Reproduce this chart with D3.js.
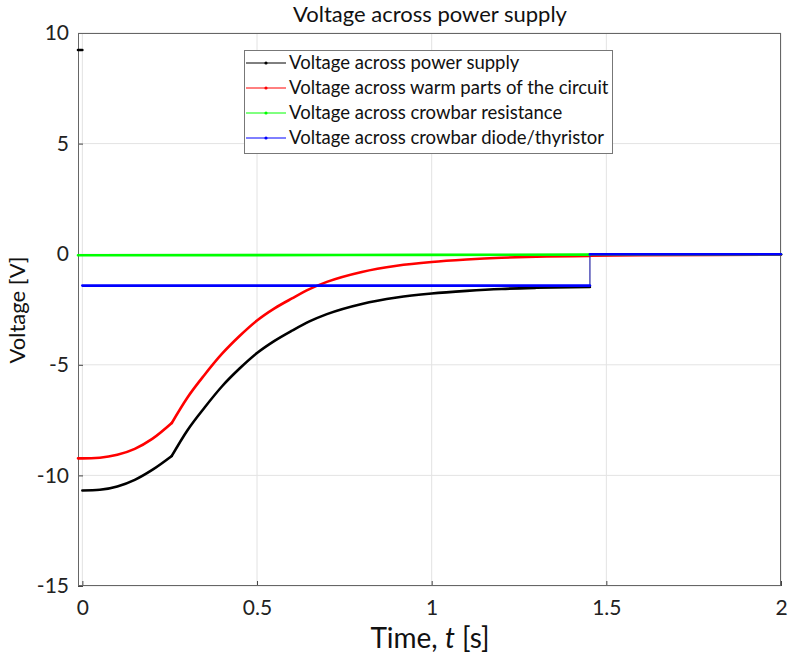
<!DOCTYPE html>
<html>
<head>
<meta charset="utf-8">
<script src="https://cdn.jsdelivr.net/npm/d3@7"></script>
<style>
  html, body { margin: 0; padding: 0; background: #fff; }
  svg { display: block; font-family: Lato, "Open Sans", sans-serif; }
</style>
</head>
<body>
<svg id="chart" width="789" height="658"></svg>
<script>
// Circuit voltages after the crowbar fires; the switch opens at t = 1.453 s.
const switchTime = 1.453;
const kneeTime = 0.256;

// Sample times (s) for the supply and warm-circuit traces
const timeMain = [0, 0.05, 0.1, 0.15, 0.2, 0.256, 0.3, 0.35, 0.4, 0.45, 0.5, 0.55,
                  0.6, 0.65, 0.7, 0.8, 0.9, 1.0, 1.1, 1.2, 1.3, 1.453];
const timeAfter = [1.453, 1.6, 1.8, 2.0];

// Voltage across power supply (V)
const supplyBefore = [[-0.0125, 9.23], [0, 9.23]];
const supplyMain = [-10.68, -10.65, -10.5, -10.2, -9.75, -9.12, -7.98, -6.93, -5.97, -5.17, -4.47, -3.92,
                    -3.46, -3.04, -2.71, -2.25, -1.96, -1.78, -1.66, -1.57, -1.52, -1.48];
const supplyAfter = [-0.02, -0.02, -0.01, -0.01];

// Voltage across warm parts of the circuit (V)
const warmStart = [-0.0125, -9.23];
const warmMain = [-9.23, -9.2, -9.07, -8.8, -8.35, -7.63, -6.5, -5.45, -4.5, -3.7, -3.0, -2.45,
                  -2.0, -1.58, -1.25, -0.8, -0.52, -0.35, -0.24, -0.16, -0.11, -0.08];
const warmAfter = [-0.07, -0.05, -0.03, -0.02];

// Voltage across crowbar resistance (V)
const resistanceTime = [-0.0125, 0.5, 1.0, 1.453];
const resistanceVals = [-0.05, -0.04, -0.03, -0.02];
const resistanceAfter = [0, 0, 0, 0];

// Voltage across crowbar diode/thyristor (V)
const diodeTime = [0, 0.5, 1.0, 1.453];
const diodeVals = [-1.42, -1.42, -1.42, -1.42];
const diodeAfter = [0, 0, 0, 0];

const xTicks = [0, 0.5, 1, 1.5, 2];
const xTickLabels = ["0", "0.5", "1", "1.5", "2"];
const yTicks = [10, 5, 0, -5, -10, -15];
const yTickLabels = ["10", "5", "0", "-5", "-10", "-15"];

const seriesNames = [
  "Voltage across power supply",
  "Voltage across warm parts of the circuit",
  "Voltage across crowbar resistance",
  "Voltage across crowbar diode/thyristor"
];
const seriesColors = ["#000000", "#ff0000", "#00ff00", "#0000ff"];

const svg = d3.select("#chart");
const plot = { left: 78, right: 781, top: 33, bottom: 586 };

const x = d3.scaleLinear().domain([-0.0125, 2]).range([plot.left, plot.right]);
const y = d3.scaleLinear().domain([-15, 10]).range([plot.bottom, plot.top]);

// grid lines
const grid = svg.append("g");
grid.selectAll("line.gx").data(xTicks).join("line")
  .attr("x1", d => x(d)).attr("x2", d => x(d))
  .attr("y1", plot.top).attr("y2", plot.bottom)
  .attr("stroke", "#e3e3e3").attr("stroke-width", 1);
grid.selectAll("line.gy").data(yTicks).join("line")
  .attr("x1", plot.left).attr("x2", plot.right)
  .attr("y1", d => y(d)).attr("y2", d => y(d))
  .attr("stroke", "#e3e3e3").attr("stroke-width", 1);

// axes (ticks inside the box)
const xAxis = d3.axisBottom(x).tickValues(xTicks).tickFormat((d, i) => xTickLabels[i])
  .tickSizeInner(-5).tickSizeOuter(0).tickPadding(14);
const yAxis = d3.axisLeft(y).tickValues(yTicks).tickFormat((d, i) => yTickLabels[i])
  .tickSizeInner(-5).tickSizeOuter(0).tickPadding(9);

const gx = svg.append("g").attr("transform", `translate(0,${plot.bottom})`).call(xAxis);
const gy = svg.append("g").attr("transform", `translate(${plot.left},0)`).call(yAxis);
[gx, gy].forEach(g => {
  g.select(".domain").remove();
  g.selectAll(".tick line").attr("stroke", "#444");
  g.selectAll(".tick text").attr("fill", "#222").style("font-size", "21px")
    .style("font-family", "Lato, sans-serif");
});
gx.selectAll(".tick text").attr("dy", "0.71em");

// plot box
svg.append("rect")
  .attr("x", plot.left + 0.5).attr("y", plot.top + 0.5)
  .attr("width", plot.right - plot.left - 1).attr("height", plot.bottom - plot.top - 1)
  .attr("fill", "none").attr("stroke", "#666").attr("stroke-width", 1);

const line = d3.line().x(d => x(d[0])).y(d => y(d[1])).curve(d3.curveMonotoneX);
const layer = svg.append("g");

// split a trace at the knee so the corner stays sharp while each side is smooth
function splitAtKnee(points) {
  const k = points.findIndex(p => p[0] === kneeTime);
  return k < 0 ? [points] : [points.slice(0, k + 1), points.slice(k)];
}

function drawTrace(pieces, color) {
  // thick pieces joined by a thin step at the switching instant
  for (let i = 0; i < pieces.length - 1; i++) {
    const a = pieces[i][pieces[i].length - 1], b = pieces[i + 1][0];
    if (a[0] === b[0] && a[1] !== b[1]) {
      layer.append("path").attr("d", d3.line().x(d => x(d[0])).y(d => y(d[1]))([a, b]))
        .attr("fill", "none").attr("stroke", color).attr("stroke-width", 1).attr("opacity", 0.6);
    }
  }
  pieces.forEach(p => {
    splitAtKnee(p).forEach(seg => {
      layer.append("path").attr("d", line(seg))
        .attr("fill", "none").attr("stroke", color).attr("stroke-width", 2.6)
        .attr("stroke-linejoin", "round").attr("stroke-linecap", "round");
    });
  });
}

const zip = (t, v) => t.map((d, i) => [d, v[i]]);

drawTrace([supplyBefore], seriesColors[0]);
drawTrace([zip(timeMain, supplyMain), zip(timeAfter, supplyAfter)], seriesColors[0]);
drawTrace([[warmStart].concat(zip(timeMain, warmMain)), zip(timeAfter, warmAfter)], seriesColors[1]);
drawTrace([zip(resistanceTime, resistanceVals), zip(timeAfter, resistanceAfter)], seriesColors[2]);
drawTrace([zip(diodeTime, diodeVals), zip(timeAfter, diodeAfter)], seriesColors[3]);

// legend
const legend = svg.append("g").attr("transform", "translate(244,50)");
legend.append("rect").attr("x", 0.5).attr("y", 0.5).attr("width", 368).attr("height", 103)
  .attr("fill", "#fff").attr("stroke", "#777").attr("stroke-width", 1);
const rows = legend.selectAll("g.row").data(seriesNames).join("g")
  .attr("transform", (d, i) => `translate(0,${13 + i * 25})`);
rows.append("line").attr("x1", 2).attr("x2", 42).attr("y1", 0).attr("y2", 0)
  .attr("stroke", (d, i) => seriesColors[i]).attr("stroke-width", 1);
rows.append("circle").attr("cx", 22).attr("cy", 0).attr("r", 1.6)
  .attr("fill", (d, i) => seriesColors[i]);
rows.append("text").attr("x", 45).attr("y", 0).attr("dy", "0.35em")
  .style("font-size", "18.5px").attr("fill", "#111").text(d => d);

// title and axis labels
svg.append("text").attr("x", 430).attr("y", 22).attr("text-anchor", "middle")
  .style("font-size", "22px").attr("fill", "#111").text("Voltage across power supply");

const xl = svg.append("text").attr("x", 430).attr("y", 648).attr("text-anchor", "middle")
  .style("font-size", "28px").attr("fill", "#111");
xl.append("tspan").text("Time, ");
xl.append("tspan").style("font-style", "italic").text("t");
xl.append("tspan").text(" [s]");

svg.append("text").attr("transform", "translate(25,310) rotate(-90)").attr("text-anchor", "middle")
  .style("font-size", "22px").attr("fill", "#111").text("Voltage [V]");
</script>
</body>
</html>
